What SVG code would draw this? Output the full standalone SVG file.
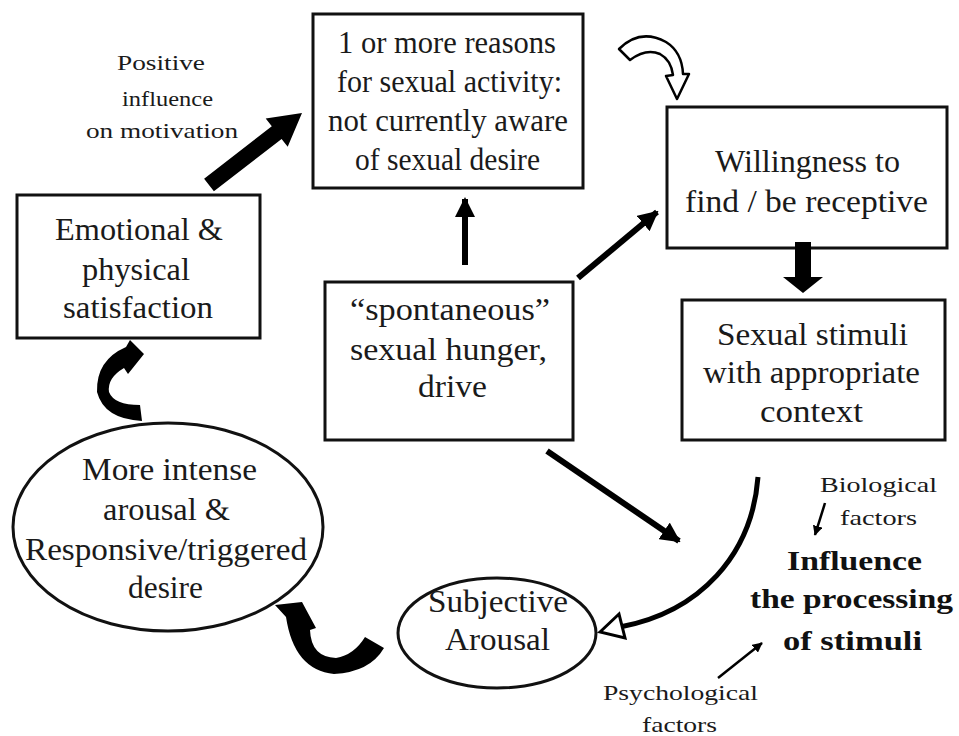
<svg xmlns="http://www.w3.org/2000/svg" width="959" height="736" viewBox="0 0 959 736">
<defs>
<style>
.box{fill:#fff;stroke:#111;stroke-width:3}
.t{font-family:"Liberation Serif","Times New Roman",serif;font-size:31px;fill:#1a1a1a}
.s{font-family:"Liberation Serif","Times New Roman",serif;font-size:21px;fill:#1a1a1a}
.b{font-family:"Liberation Serif","Times New Roman",serif;font-size:28px;font-weight:bold;fill:#111}
.ln{fill:none;stroke:#000;stroke-width:6}
.fill{fill:#000;stroke:none}
</style>
<marker id="ah" viewBox="0 0 20 20" refX="18" refY="10" markerWidth="20" markerHeight="20" markerUnits="userSpaceOnUse" orient="auto">
<path d="M0,0 L20,10 L0,20 Z" fill="#000"/>
</marker>
<marker id="ahs" viewBox="0 0 12 12" refX="11" refY="6" markerWidth="10" markerHeight="10" markerUnits="userSpaceOnUse" orient="auto">
<path d="M0,0 L12,6 L0,12 Z" fill="#000"/>
</marker>
</defs>
<rect width="959" height="736" fill="#fff"/>

<g id="reasons">
<rect class="box" x="313" y="14" width="270" height="174"/>
<text class="t" x="338" y="53" textLength="218" lengthAdjust="spacingAndGlyphs">1 or more reasons</text>
<text class="t" x="337" y="92" textLength="225" lengthAdjust="spacingAndGlyphs">for sexual activity:</text>
<text class="t" x="328" y="131" textLength="240" lengthAdjust="spacingAndGlyphs">not currently aware</text>
<text class="t" x="355" y="170" textLength="185" lengthAdjust="spacingAndGlyphs">of sexual desire</text>
</g>

<g id="willingness">
<rect class="box" x="667" y="107" width="280" height="141"/>
<text class="t" x="715" y="172" textLength="185" lengthAdjust="spacingAndGlyphs">Willingness to</text>
<text class="t" x="685" y="212" textLength="243" lengthAdjust="spacingAndGlyphs">find / be receptive</text>
</g>

<g id="stimuli">
<rect class="box" x="682" y="300" width="263" height="140"/>
<text class="t" x="717" y="345" textLength="191" lengthAdjust="spacingAndGlyphs">Sexual stimuli</text>
<text class="t" x="703" y="383" textLength="217" lengthAdjust="spacingAndGlyphs">with appropriate</text>
<text class="t" x="760" y="422" textLength="103" lengthAdjust="spacingAndGlyphs">context</text>
</g>

<g id="spontaneous">
<rect class="box" x="325" y="282" width="248" height="158"/>
<text class="t" x="350" y="320" textLength="200" lengthAdjust="spacingAndGlyphs">“spontaneous”</text>
<text class="t" x="350" y="360" textLength="197" lengthAdjust="spacingAndGlyphs">sexual hunger,</text>
<text class="t" x="418" y="397" textLength="69" lengthAdjust="spacingAndGlyphs">drive</text>
</g>

<g id="satisfaction">
<rect class="box" x="17" y="195" width="243" height="143"/>
<text class="t" x="55" y="240" textLength="168" lengthAdjust="spacingAndGlyphs">Emotional &amp;</text>
<text class="t" x="82" y="280" textLength="108" lengthAdjust="spacingAndGlyphs">physical</text>
<text class="t" x="63" y="318" textLength="150" lengthAdjust="spacingAndGlyphs">satisfaction</text>
</g>

<g id="intense">
<ellipse class="box" cx="168" cy="527" rx="155" ry="104" stroke-width="2.5"/>
<text class="t" x="82" y="480" textLength="175" lengthAdjust="spacingAndGlyphs">More intense</text>
<text class="t" x="103" y="520" textLength="127" lengthAdjust="spacingAndGlyphs">arousal &amp;</text>
<text class="t" x="25" y="560" textLength="282" lengthAdjust="spacingAndGlyphs">Responsive/triggered</text>
<text class="t" x="128" y="598" textLength="75" lengthAdjust="spacingAndGlyphs">desire</text>
</g>

<g id="subjective">
<ellipse class="box" cx="497" cy="633" rx="99" ry="55" stroke-width="2.5"/>
<text class="t" x="428" y="612" textLength="140" lengthAdjust="spacingAndGlyphs">Subjective</text>
<text class="t" x="445" y="650" textLength="105" lengthAdjust="spacingAndGlyphs">Arousal</text>
</g>

<g id="influence">
<text class="b" x="787" y="570" textLength="135" lengthAdjust="spacingAndGlyphs">Influence</text>
<text class="b" x="750" y="608" textLength="203" lengthAdjust="spacingAndGlyphs">the processing</text>
<text class="b" x="783" y="650" textLength="139" lengthAdjust="spacingAndGlyphs">of stimuli</text>
</g>

<g id="labels">
<text class="s" x="117" y="70" textLength="88" lengthAdjust="spacingAndGlyphs">Positive</text>
<text class="s" x="122" y="106" textLength="91" lengthAdjust="spacingAndGlyphs">influence</text>
<text class="s" x="86" y="138" textLength="152" lengthAdjust="spacingAndGlyphs">on motivation</text>
<text class="s" x="820" y="492" textLength="117" lengthAdjust="spacingAndGlyphs">Biological</text>
<text class="s" x="840" y="525" textLength="77" lengthAdjust="spacingAndGlyphs">factors</text>
<text class="s" x="603" y="700" textLength="155" lengthAdjust="spacingAndGlyphs">Psychological</text>
<text class="s" x="642" y="732" textLength="75" lengthAdjust="spacingAndGlyphs">factors</text>
</g>

<g id="connectors">
<polygon class="fill" points="204.1,178.7 271.8,126.3 265.7,118.4 302,113 287.7,146.8 281.6,138.9 213.9,191.3"/>
<line class="ln" x1="465" y1="265" x2="465" y2="199" marker-end="url(#ah)"/>
<line class="ln" x1="578" y1="278" x2="657" y2="212" marker-end="url(#ah)"/>
<line class="ln" x1="547" y1="451" x2="679" y2="541" marker-end="url(#ah)"/>
<polygon class="fill" points="795,242 811,242 811,277 823,277 803,293 783,277 795,277"/>
<path d="M758,477 C752,555 700,612 620,627" fill="none" stroke="#000" stroke-width="5"/>
<polygon points="600,632 619,614 625,638" fill="#fff" stroke="#000" stroke-width="3" stroke-linejoin="miter"/>
<path d="M619,49 Q640,28 666,42 Q682,52 683,74 L689,74 L677,99 L666,76 L673,75 Q671,60 660,54 Q646,48 630,60 Z" fill="#fff" stroke="#000" stroke-width="2.5" stroke-linejoin="round"/>
<path d="M130,340 L144,354 L128,374 L124,368 Q107,378 109,392 Q114,405 140,405 L142,421 Q104,419 97,392 Q96,360 126,347 Z" class="fill"/>
<path d="M275,605 L302,602 L316,628 L310,630 Q311,657 336,658 Q354,655 365,637 L384,648 Q370,672 334,674 Q294,670 286,617 Z" class="fill"/>
<line x1="825" y1="503" x2="815" y2="535" stroke="#000" stroke-width="2.5" marker-end="url(#ahs)"/>
<line x1="718" y1="678" x2="762" y2="643" stroke="#000" stroke-width="2.5" marker-end="url(#ahs)"/>
</g>
</svg>
